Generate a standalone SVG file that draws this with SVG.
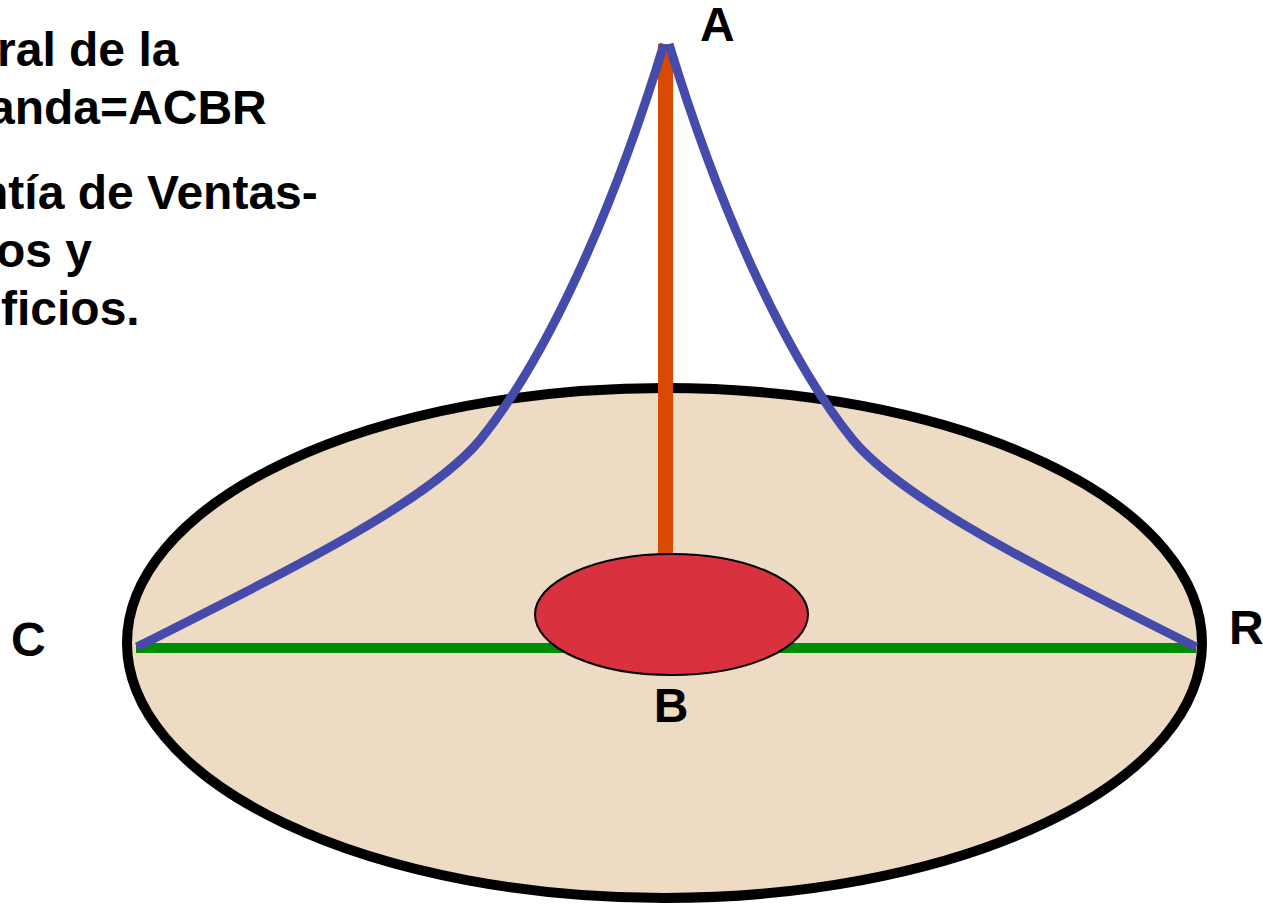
<svg xmlns="http://www.w3.org/2000/svg" width="1263" height="907" viewBox="0 0 1263 907">
<style>
.t{font-family:"Liberation Sans",Arial,sans-serif;font-weight:bold;font-size:48px;fill:#000}
.blue{fill:none;stroke:#444BAA;stroke-width:9}
</style>
<rect width="1263" height="907" fill="#fff"/>
<g id="text">
<text class="t" x="-3" y="66">ral de la</text>
<text class="t" x="-12" y="124">anda=ACBR</text>
<text class="t" x="-21" y="209">ntía de Ventas-</text>
<text class="t" x="-4" y="267">os y</text>
<text class="t" x="1" y="325">ficios.</text>
</g>
<g id="base">
<ellipse cx="664.5" cy="643" rx="537.5" ry="255" fill="#EEDBC3" stroke="#000" stroke-width="10"/>
</g>
<g id="connectors">
<line id="CR" x1="136" y1="648" x2="1196" y2="648" stroke="#008C00" stroke-width="10"/>
<line id="AB" x1="665.5" y1="44" x2="665.5" y2="570" stroke="#D94A00" stroke-width="15"/>
<path id="AC" class="blue" d="M137,647 C300,565 430,500 480,440 C545,360 612,215 664,44"/>
<path id="AR" class="blue" d="M1196,647 C1033,565 903,500 853,440 C788,360 721,215 669,44"/>
</g>
<g id="nodeB">
<ellipse cx="671.5" cy="614.5" rx="136.5" ry="60.5" fill="#DA313E" stroke="#000" stroke-width="2"/>
<text class="t" x="671" y="722" text-anchor="middle">B</text>
</g>
<g id="nodeA"><text class="t" x="700" y="41">A</text></g>
<g id="nodeC"><text class="t" x="11" y="656">C</text></g>
<g id="nodeR"><text class="t" x="1229" y="644">R</text></g>
</svg>
